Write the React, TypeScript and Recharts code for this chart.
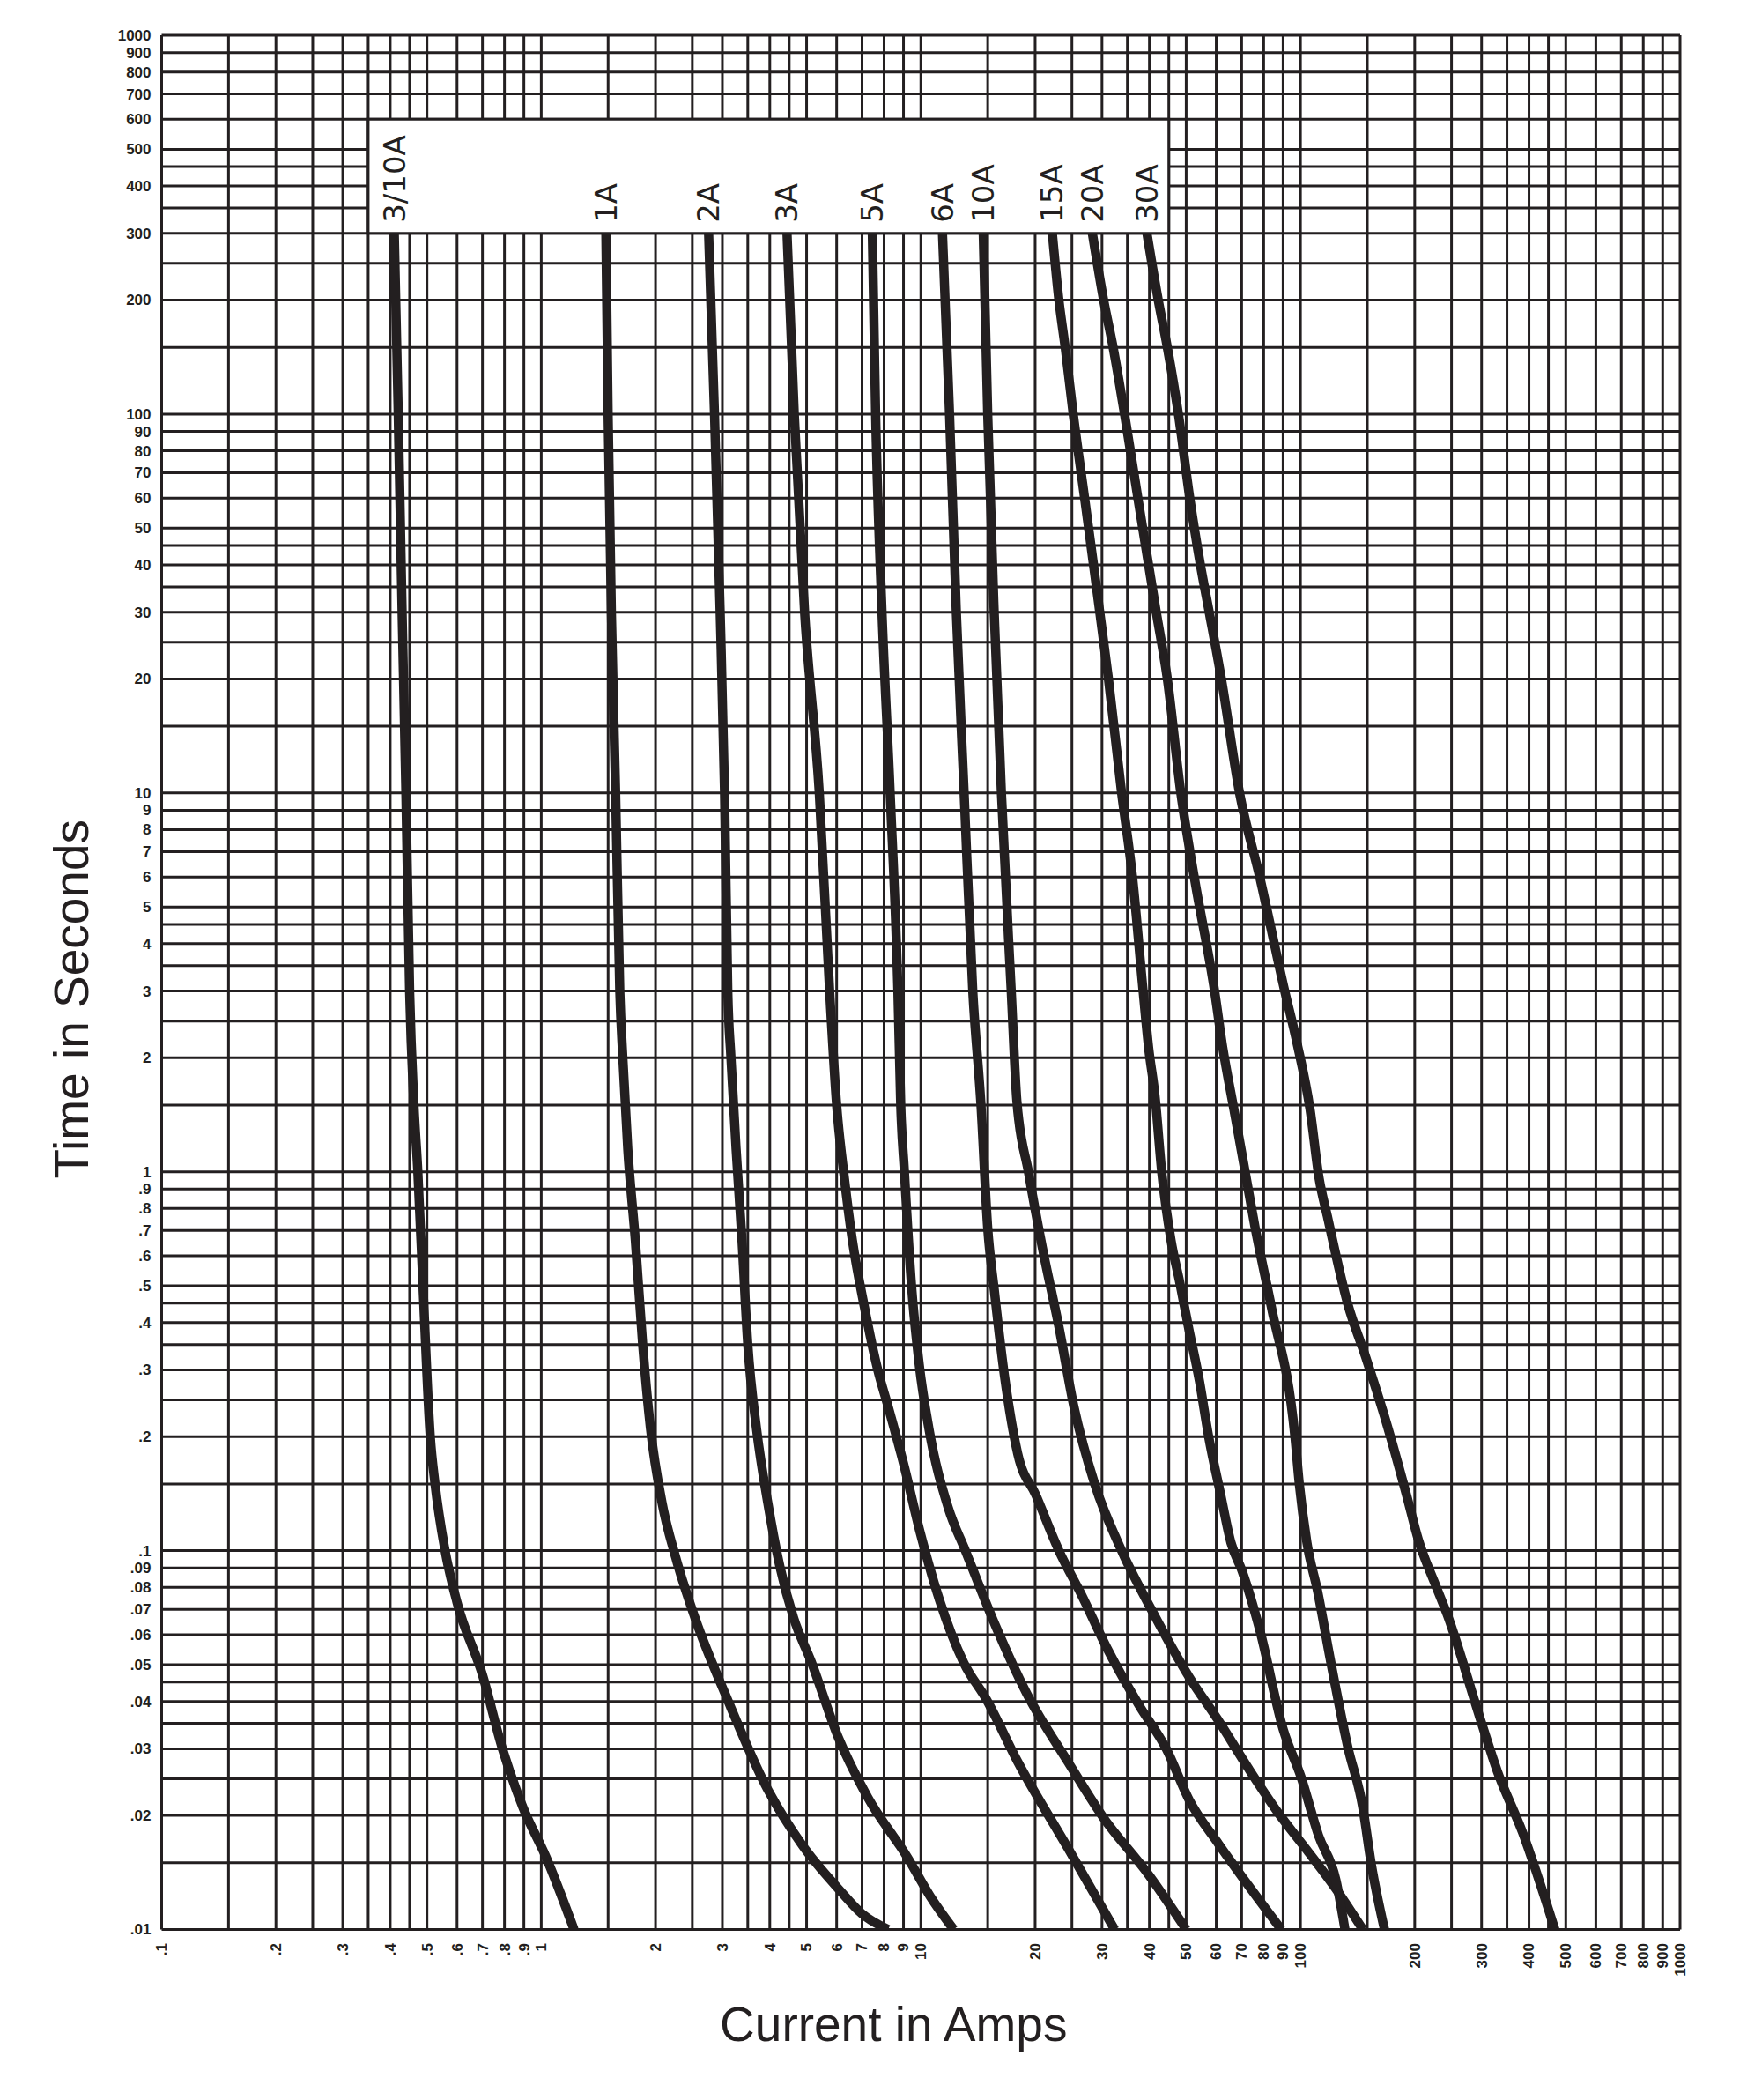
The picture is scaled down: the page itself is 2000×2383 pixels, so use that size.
import {
  LineChart,
  Line,
  XAxis,
  YAxis,
  CartesianGrid,
  ReferenceArea,
  ReferenceDot,
} from 'recharts'

const INK = '#231f20'

// time-current curves: amps vs seconds, one pair per rating
const amps3_10A = [0.41, 0.42, 0.43, 0.44, 0.45, 0.462, 0.473, 0.488, 0.51, 0.525, 0.558, 0.6, 0.7, 0.79, 0.895, 1.03, 1.22]
const secs3_10A = [300, 100, 30, 10, 3, 1.5, 1, 0.5, 0.2, 0.15, 0.1, 0.073, 0.047, 0.03, 0.021, 0.0155, 0.01]

const amps1A = [1.48, 1.5, 1.53, 1.57, 1.61, 1.64, 1.69, 1.77, 1.85, 1.94, 2.08, 2.26, 2.54, 3.11, 3.9, 4.87, 6.07, 7, 8.2]
const secs1A = [300, 100, 30, 10, 3, 2, 1.15, 0.656, 0.35, 0.21, 0.134, 0.096, 0.0665, 0.04, 0.024, 0.0167, 0.0128, 0.011, 0.01]

const amps2A = [2.76, 2.86, 2.96, 3.04, 3.1, 3.16, 3.26, 3.38, 3.5, 3.69, 3.95, 4.24, 4.62, 5.14, 6.07, 7.25, 9.22, 10.6, 12.2]
const secs2A = [300, 100, 30, 10, 3, 2, 1.15, 0.656, 0.35, 0.21, 0.134, 0.092, 0.0665, 0.051, 0.032, 0.0223, 0.0155, 0.0122, 0.01]

const amps3A = [4.44, 4.64, 4.94, 5.4, 5.75, 6.0, 6.29, 6.6, 7.1, 7.7, 8.2, 9.0, 9.95, 11.2, 12.96, 14.9, 18.0, 24.4, 32.4]
const secs3A = [300, 100, 30, 10, 3, 1.5, 0.96, 0.66, 0.44, 0.3, 0.24, 0.17, 0.112, 0.074, 0.0507, 0.0404, 0.0277, 0.0164, 0.01]

const amps5A = [7.45, 7.6, 7.9, 8.3, 8.7, 8.85, 9.05, 9.45, 9.9, 10.5, 11.8, 13.1, 15.7, 19.0, 24.4, 30.3, 39.7, 50]
const secs5A = [300, 100, 30, 10, 3, 1.5, 1, 0.5, 0.31, 0.21, 0.13, 0.1, 0.0636, 0.042, 0.0277, 0.0197, 0.014, 0.01]

const amps6A = [11.4, 11.9, 12.4, 13.0, 13.7, 14.4, 15.0, 15.6, 16.6, 18.0, 20.1, 23.1, 26.4, 31.1, 37.6, 44.3, 51, 60.9, 72.8, 89]
const secs6A = [300, 100, 30, 10, 3, 1.5, 0.71, 0.49, 0.29, 0.18, 0.14, 0.1, 0.077, 0.0547, 0.039, 0.03, 0.0219, 0.0168, 0.0131, 0.01]

const amps10A = [14.6, 15, 15.6, 16.3, 17.3, 17.9, 19.2, 20.9, 23.1, 25.3, 28.7, 33.8, 40.9, 50.9, 60.9, 72.8, 87.1, 104, 124, 146]
const secs10A = [300, 100, 30, 10, 3, 1.54, 1.0, 0.63, 0.39, 0.24, 0.15, 0.1, 0.0686, 0.0464, 0.0355, 0.0267, 0.0204, 0.0162, 0.0128, 0.01]

const amps15A = [22.2, 23.1, 24.0, 25.2, 27.0, 28.5, 29.6, 31.2, 33.8, 36.1, 38.5, 39.8, 41.4, 43.1, 45.6, 48.1, 50.8, 54.2, 57.3, 61.5, 65.6, 70.2, 78.1, 90.1, 100.3, 111.6, 124, 131]
const secs15A = [300, 200, 150, 100, 60, 40, 30, 20, 10, 6, 3, 2.13, 1.58, 1.0, 0.66, 0.51, 0.385, 0.28, 0.2, 0.142, 0.105, 0.0883, 0.0618, 0.0337, 0.0253, 0.0177, 0.0135, 0.01]

const amps20A = [28.3, 30.3, 32.1, 34.4, 37.3, 39.8, 41.7, 44.6, 48.4, 52.5, 59.4, 62.4, 66.8, 71, 76, 84, 96.7, 99.3, 104, 111, 119.8, 133.3, 145.7, 153.8, 166.5]
const secs20A = [300, 200, 150, 100, 60, 40, 30, 20, 10, 6, 3, 2.13, 1.46, 1.04, 0.71, 0.435, 0.2, 0.15, 0.105, 0.078, 0.0517, 0.0303, 0.0212, 0.0148, 0.01]

const amps30A = [39.4, 42.2, 44.6, 47.7, 51.1, 54.5, 57.5, 61.9, 69.1, 78.1, 90.9, 97.8, 106, 112, 117.7, 133.3, 148.6, 168.1, 190.4, 204.4, 227.5, 244, 297, 330, 385, 468]
const secs30A = [300, 200, 150, 100, 60, 40, 30, 20, 10, 6, 3, 2.2, 1.46, 0.96, 0.764, 0.447, 0.324, 0.219, 0.14, 0.107, 0.0806, 0.0675, 0.0362, 0.0262, 0.018, 0.01]

// printed tick labels
const xLabelValues = [0.1, 0.2, 0.3, 0.4, 0.5, 0.6, 0.7, 0.8, 0.9, 1, 2, 3, 4, 5, 6, 7, 8, 9, 10, 20, 30, 40, 50, 60, 70, 80, 90, 100, 200, 300, 400, 500, 600, 700, 800, 900, 1000]
const xLabelTexts = ['.1', '.2', '.3', '.4', '.5', '.6', '.7', '.8', '.9', '1', '2', '3', '4', '5', '6', '7', '8', '9', '10', '20', '30', '40', '50', '60', '70', '80', '90', '100', '200', '300', '400', '500', '600', '700', '800', '900', '1000']

const yLabelValues = [1000, 900, 800, 700, 600, 500, 400, 300, 200, 100, 90, 80, 70, 60, 50, 40, 30, 20, 10, 9, 8, 7, 6, 5, 4, 3, 2, 1, 0.9, 0.8, 0.7, 0.6, 0.5, 0.4, 0.3, 0.2, 0.1, 0.09, 0.08, 0.07, 0.06, 0.05, 0.04, 0.03, 0.02, 0.01]
const yLabelTexts = ['1000', '900', '800', '700', '600', '500', '400', '300', '200', '100', '90', '80', '70', '60', '50', '40', '30', '20', '10', '9', '8', '7', '6', '5', '4', '3', '2', '1', '.9', '.8', '.7', '.6', '.5', '.4', '.3', '.2', '.1', '.09', '.08', '.07', '.06', '.05', '.04', '.03', '.02', '.01']

// log paper rulings: these mantissas in every decade
const rulings = [1, 1.5, 2, 2.5, 3, 3.5, 4, 4.5, 5, 6, 7, 8, 9]
const xDecades = [0.1, 1, 10, 100]
const yDecades = [0.01, 0.1, 1, 10, 100]

const ruled = (decades: number[], top: number) => [
  ...decades.flatMap((d) => rulings.map((m) => Number((m * d).toPrecision(6)))),
  top,
]
const xGrid = ruled(xDecades, 1000)
const yGrid = ruled(yDecades, 1000)

const series = [
  { name: '3/10A', amps: amps3_10A, secs: secs3_10A },
  { name: '1A', amps: amps1A, secs: secs1A },
  { name: '2A', amps: amps2A, secs: secs2A },
  { name: '3A', amps: amps3A, secs: secs3A },
  { name: '5A', amps: amps5A, secs: secs5A },
  { name: '6A', amps: amps6A, secs: secs6A },
  { name: '10A', amps: amps10A, secs: secs10A },
  { name: '15A', amps: amps15A, secs: secs15A },
  { name: '20A', amps: amps20A, secs: secs20A },
  { name: '30A', amps: amps30A, secs: secs30A },
].map((s) => ({ ...s, points: s.amps.map((a, i) => ({ x: a, y: s.secs[i] })) }))

const findLabel = (values: number[], texts: string[], v: number) => {
  const i = values.findIndex((lv) => Math.abs(Math.log10(lv) - Math.log10(v)) < 1e-6)
  return i < 0 ? '' : texts[i]
}

const tickFont = { fontFamily: 'Liberation Sans, Arial, sans-serif', fontWeight: 700, fontSize: 17, fill: INK }

function XTick({ x, y, payload }: any) {
  const text = findLabel(xLabelValues, xLabelTexts, payload.value)
  if (!text) return <g />
  return (
    <text x={x} y={y} dy="0.35em" textAnchor="end" transform={`rotate(-90, ${x}, ${y})`} {...tickFont}>
      {text}
    </text>
  )
}

function YTick({ x, y, payload }: any) {
  const text = findLabel(yLabelValues, yLabelTexts, payload.value)
  if (!text) return <g />
  return (
    <text x={x} y={y} dy="0.35em" textAnchor="end" {...tickFont}>
      {text}
    </text>
  )
}

const titleFont = { fontFamily: 'Liberation Sans, Arial, sans-serif', fontSize: 55, fill: INK }

function XTitle({ viewBox }: any) {
  const cx = viewBox.x + viewBox.width / 2 - 31
  return (
    <text x={cx} y={viewBox.y + 126.5} textAnchor="middle" {...titleFont}>
      Current in Amps
    </text>
  )
}

function YTitle({ viewBox }: any) {
  const cy = viewBox.y + viewBox.height / 2 + 19
  const bx = 92
  return (
    <text x={bx} y={cy} textAnchor="middle" transform={`rotate(-90, ${bx}, ${cy})`} {...titleFont}>
      Time in Seconds
    </text>
  )
}

function RatingLabel({ cx, cy, text }: any) {
  const bx = cx + 12
  const by = cy - 12
  return (
    <text
      x={bx}
      y={by}
      textAnchor="start"
      transform={`rotate(-90, ${bx}, ${by})`}
      fontFamily="DejaVu Sans, sans-serif"
      fontSize={34}
      fill={INK}
    >
      {text}
    </text>
  )
}

export default function App() {
  return (
    <div style={{ width: 1960, height: 2370 }}>
      <LineChart width={1960} height={2370} margin={{ top: 32, right: 61, bottom: 128.5, left: 0 }}>
        <CartesianGrid
          stroke={INK}
          strokeWidth={3}
          horizontalValues={yGrid}
          verticalValues={xGrid}
        />
        <XAxis
          dataKey="x"
          type="number"
          scale="log"
          domain={[0.1, 1000]}
          allowDataOverflow
          ticks={xGrid}
          interval={0}
          height={60}
          axisLine={false}
          tickLine={false}
          tickSize={0}
          tickMargin={15.5}
          tick={<XTick />}
          label={<XTitle />}
        />
        <YAxis
          type="number"
          scale="log"
          domain={[0.01, 1000]}
          allowDataOverflow
          ticks={yGrid}
          interval={0}
          width={175.5}
          axisLine={false}
          tickLine={false}
          tickSize={0}
          tickMargin={12}
          tick={<YTick />}
          label={<YTitle />}
        />
        <ReferenceArea
          x1={0.35}
          x2={45}
          y1={300}
          y2={600}
          fill="#ffffff"
          fillOpacity={1}
          stroke={INK}
          strokeWidth={3}
        />
        {series.map((s) => (
          <Line
            key={s.name}
            name={s.name}
            data={s.points}
            dataKey="y"
            type="monotone"
            stroke={INK}
            strokeWidth={10.5}
            dot={false}
            activeDot={false}
            isAnimationActive={false}
          />
        ))}
        {series.map((s) => (
          <ReferenceDot
            key={`lbl-${s.name}`}
            x={s.points[0].x}
            y={s.points[0].y}
            r={0}
            shape={(p: any) => <RatingLabel cx={p.cx} cy={p.cy} text={s.name} />}
          />
        ))}
      </LineChart>
    </div>
  )
}
